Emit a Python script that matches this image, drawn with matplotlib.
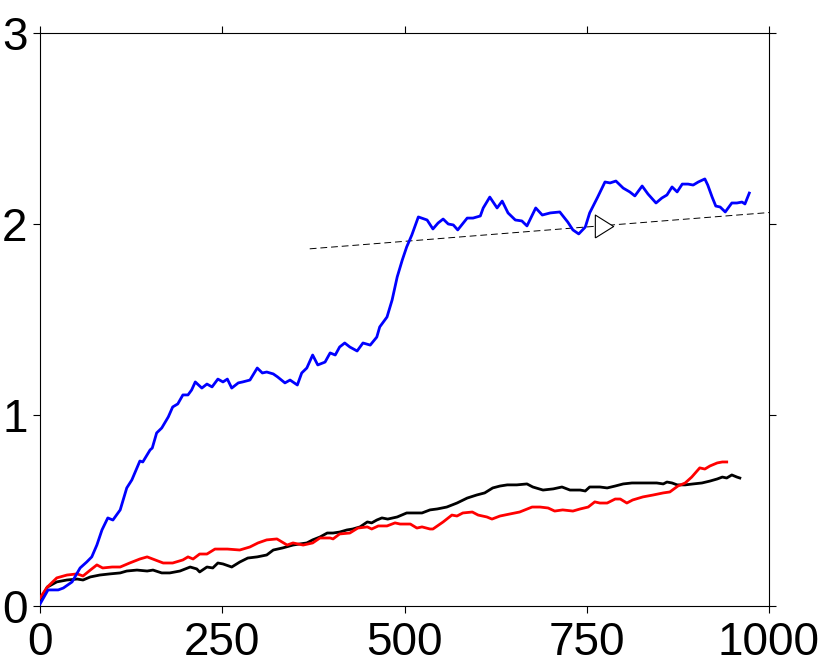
import matplotlib
matplotlib.use("Agg")
import matplotlib.pyplot as plt

# Blue series (x, y)
blue_x = [0, 11, 25, 32, 44, 55, 64, 71, 78, 85, 93, 100, 110, 119, 126, 137, 141, 151, 154, 160,
          167, 176, 182, 189, 196, 203, 208, 213, 222, 229, 236, 244, 251, 257, 263, 272, 278, 288,
          298, 305, 311, 320, 326, 336, 343, 353, 359, 366, 374, 381, 391, 398, 405, 411, 418, 425,
          435, 443, 453, 462, 466, 476, 483, 490, 497, 503, 510, 519, 531, 539, 546, 553, 560, 567,
          573, 586, 594, 604, 608, 617, 627, 634, 642, 652, 661, 668, 680, 689, 700, 713, 724, 731,
          739, 748, 754, 765, 775, 782, 790, 800, 809, 816, 826, 834, 845, 853, 860, 867, 874, 881,
          889, 896, 903, 912, 916, 922, 927, 933, 940, 949, 956, 963, 967, 973]
blue_y = [0.01, 0.084, 0.084, 0.094, 0.126, 0.199, 0.230, 0.257, 0.319, 0.398, 0.461, 0.450, 0.503,
          0.618, 0.660, 0.759, 0.754, 0.817, 0.827, 0.906, 0.932, 0.990, 1.042, 1.058, 1.105, 1.105,
          1.131, 1.173, 1.141, 1.162, 1.147, 1.188, 1.173, 1.188, 1.141, 1.168, 1.173, 1.183, 1.246,
          1.220, 1.225, 1.215, 1.199, 1.168, 1.183, 1.157, 1.220, 1.246, 1.314, 1.262, 1.277, 1.325,
          1.314, 1.356, 1.377, 1.356, 1.335, 1.377, 1.366, 1.408, 1.461, 1.513, 1.602, 1.723, 1.812,
          1.880, 1.942, 2.037, 2.021, 1.974, 2.005, 2.026, 2.000, 1.995, 1.969, 2.031, 2.031, 2.042,
          2.084, 2.141, 2.084, 2.120, 2.058, 2.021, 2.016, 1.990, 2.084, 2.047, 2.058, 2.063, 2.010,
          1.969, 1.948, 1.984, 2.058, 2.141, 2.220, 2.215, 2.225, 2.188, 2.168, 2.147, 2.199, 2.157,
          2.110, 2.136, 2.152, 2.194, 2.168, 2.209, 2.209, 2.204, 2.220, 2.236, 2.204, 2.141, 2.094,
          2.089, 2.063, 2.110, 2.110, 2.115, 2.105, 2.162]

# Black series
black_x = [0, 10, 23, 37, 51, 59, 69, 82, 96, 110, 119, 133, 147, 155, 167, 178, 192, 206, 215, 219,
           229, 237, 244, 251, 263, 274, 285, 298, 311, 320, 333, 347, 357, 366, 374, 384, 394, 402,
           411, 421, 429, 439, 449, 455, 462, 469, 477, 490, 503, 514, 524, 535, 545, 558, 572, 586,
           599, 610, 621, 631, 641, 654, 668, 676, 690, 704, 716, 727, 741, 748, 754, 768, 778, 789,
           800, 812, 827, 846, 855, 860, 867, 874, 885, 896, 908, 919, 929, 936, 942, 949, 956, 960]
black_y = [0.031, 0.099, 0.126, 0.136, 0.141, 0.136, 0.152, 0.162, 0.168, 0.173, 0.183, 0.188, 0.183,
           0.188, 0.173, 0.173, 0.183, 0.204, 0.194, 0.178, 0.204, 0.199, 0.225, 0.220, 0.204, 0.230,
           0.251, 0.257, 0.267, 0.293, 0.304, 0.319, 0.325, 0.330, 0.346, 0.361, 0.382, 0.382, 0.387,
           0.398, 0.403, 0.414, 0.440, 0.435, 0.450, 0.461, 0.455, 0.466, 0.487, 0.487, 0.487, 0.503,
           0.508, 0.518, 0.539, 0.565, 0.581, 0.592, 0.618, 0.628, 0.634, 0.634, 0.639, 0.623, 0.607,
           0.613, 0.623, 0.607, 0.607, 0.602, 0.623, 0.623, 0.618, 0.628, 0.639, 0.644, 0.644, 0.644,
           0.639, 0.649, 0.644, 0.634, 0.634, 0.639, 0.644, 0.654, 0.665, 0.675, 0.670, 0.686, 0.675,
           0.670]

# Red series
red_x = [0, 10, 23, 37, 51, 59, 69, 78, 86, 99, 110, 123, 137, 147, 158, 169, 182, 196, 203, 210,
         219, 229, 240, 257, 274, 288, 299, 311, 325, 339, 347, 361, 374, 384, 398, 402, 411, 425,
         436, 449, 455, 464, 476, 487, 494, 508, 517, 524, 535, 539, 553, 565, 572, 580, 593, 601,
         613, 620, 631, 645, 658, 675, 686, 697, 706, 717, 731, 741, 752, 761, 768, 778, 789, 796,
         805, 813, 827, 841, 855, 864, 875, 885, 894, 905, 912, 919, 929, 936, 942]
red_y = [0.042, 0.099, 0.147, 0.162, 0.168, 0.157, 0.188, 0.215, 0.199, 0.204, 0.204, 0.225, 0.246,
         0.257, 0.241, 0.225, 0.225, 0.241, 0.257, 0.246, 0.272, 0.272, 0.298, 0.298, 0.293, 0.309,
         0.330, 0.346, 0.351, 0.319, 0.330, 0.319, 0.330, 0.356, 0.356, 0.351, 0.377, 0.382, 0.408,
         0.414, 0.403, 0.419, 0.419, 0.435, 0.429, 0.429, 0.408, 0.414, 0.403, 0.403, 0.440, 0.476,
         0.471, 0.487, 0.492, 0.476, 0.466, 0.455, 0.471, 0.482, 0.492, 0.518, 0.518, 0.513, 0.497,
         0.503, 0.497, 0.508, 0.518, 0.545, 0.539, 0.539, 0.560, 0.560, 0.539, 0.555, 0.571, 0.581,
         0.592, 0.597, 0.628, 0.644, 0.675, 0.723, 0.717, 0.733, 0.749, 0.754, 0.754]

# Dashed trend line and the marker on it
trend_x = [370, 1000]
trend_y = [1.87, 2.06]
marker_x = 773

x_ticks = [0, 250, 500, 750, 1000]
y_ticks = [0, 1, 2, 3]

plt.rcParams['font.family'] = ['Liberation Sans', 'DejaVu Sans']

fig = plt.figure(figsize=(8.3, 6.67), dpi=100)
ax = fig.add_axes([0.0482, 0.0915, 0.8783, 0.859])

ax.plot(black_x, black_y, color='black', linewidth=2.0, zorder=3)
ax.plot(red_x, red_y, color='red', linewidth=2.0, zorder=3)
ax.plot(blue_x, blue_y, color='blue', linewidth=2.0, zorder=3)

ax.plot(trend_x, trend_y, color='black', linewidth=0.7, dashes=(7, 4), zorder=2)
marker_y = trend_y[0] + (marker_x - trend_x[0]) * (trend_y[1] - trend_y[0]) / (trend_x[1] - trend_x[0])
tri = [(-0.8, -1), (0.8, 0), (-0.8, 1), (-0.8, -1)]
ax.plot([marker_x], [marker_y], marker=tri, markersize=16.5, markerfacecolor='white',
        markeredgecolor='black', markeredgewidth=0.8, linestyle='none', zorder=4)

ax.set_xlim(0, 1000)
ax.set_ylim(0, 3)
ax.set_xticks(x_ticks)
ax.set_yticks(y_ticks)

ax.tick_params(direction='out', length=5, width=0.8, labelsize=33,
               top=True, right=True, labeltop=False, labelright=False)
ax.tick_params(axis='y', pad=4)
ax.tick_params(axis='x', pad=6)
for spine in ax.spines.values():
    spine.set_linewidth(0.8)

fig.savefig("out.png", dpi=100)
